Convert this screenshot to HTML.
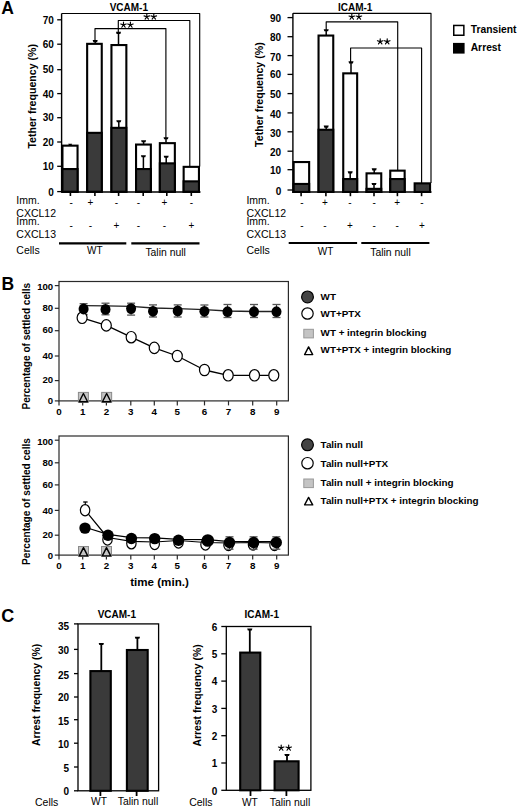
<!DOCTYPE html>
<html><head><meta charset="utf-8"><style>
html,body{margin:0;padding:0;background:#fff;overflow:hidden;width:520px;height:810px;}
svg{display:block;}
text{font-family:"Liberation Sans",sans-serif;fill:#000;}
</style></head><body>
<svg width="520" height="810" viewBox="0 0 520 810">
<text x="1.20" y="13.80" font-size="17.5" font-weight="bold" text-anchor="start" >A</text>
<text x="128.80" y="11.00" font-size="10" font-weight="bold" text-anchor="middle" >VCAM-1</text>
<line x1="61.60" y1="13.50" x2="61.60" y2="192.50" stroke="#000" stroke-width="1.4"/>
<line x1="57.20" y1="191.60" x2="61.60" y2="191.60" stroke="#000" stroke-width="1.3"/>
<text x="53.80" y="196.10" font-size="10" font-weight="bold" text-anchor="end" >0</text>
<line x1="57.20" y1="166.30" x2="61.60" y2="166.30" stroke="#000" stroke-width="1.3"/>
<text x="53.80" y="169.90" font-size="10" font-weight="bold" text-anchor="end" >10</text>
<line x1="57.20" y1="142.00" x2="61.60" y2="142.00" stroke="#000" stroke-width="1.3"/>
<text x="53.80" y="146.30" font-size="10" font-weight="bold" text-anchor="end" >20</text>
<line x1="57.20" y1="117.70" x2="61.60" y2="117.70" stroke="#000" stroke-width="1.3"/>
<text x="53.80" y="120.90" font-size="10" font-weight="bold" text-anchor="end" >30</text>
<line x1="57.20" y1="93.60" x2="61.60" y2="93.60" stroke="#000" stroke-width="1.3"/>
<text x="53.80" y="97.50" font-size="10" font-weight="bold" text-anchor="end" >40</text>
<line x1="57.20" y1="69.70" x2="61.60" y2="69.70" stroke="#000" stroke-width="1.3"/>
<text x="53.80" y="73.00" font-size="10" font-weight="bold" text-anchor="end" >50</text>
<line x1="57.20" y1="44.20" x2="61.60" y2="44.20" stroke="#000" stroke-width="1.3"/>
<text x="53.80" y="47.80" font-size="10" font-weight="bold" text-anchor="end" >60</text>
<line x1="57.20" y1="19.80" x2="61.60" y2="19.80" stroke="#000" stroke-width="1.3"/>
<text x="53.80" y="23.60" font-size="10" font-weight="bold" text-anchor="end" >70</text>
<line x1="61.60" y1="192.00" x2="200.50" y2="192.00" stroke="#000" stroke-width="1.6"/>
<text transform="translate(35.7,96.3) rotate(-90)" font-size="10.6" font-weight="bold" text-anchor="middle">Tether frequency (%)</text>
<rect x="62.45" y="145.65" width="15.10" height="46.10" fill="#fff" stroke="#000" stroke-width="2.1"/>
<rect x="62.45" y="169.05" width="15.10" height="22.70" fill="#3a3a3a" stroke="#000" stroke-width="2.1"/>
<line x1="70.40" y1="192.50" x2="70.40" y2="196.00" stroke="#000" stroke-width="1.6"/>
<rect x="87.15" y="43.85" width="14.60" height="147.90" fill="#fff" stroke="#000" stroke-width="2.1"/>
<rect x="87.15" y="132.85" width="14.60" height="58.90" fill="#3a3a3a" stroke="#000" stroke-width="2.1"/>
<line x1="94.90" y1="192.50" x2="94.90" y2="196.00" stroke="#000" stroke-width="1.6"/>
<rect x="111.45" y="45.05" width="14.90" height="146.70" fill="#fff" stroke="#000" stroke-width="2.1"/>
<rect x="111.45" y="127.85" width="14.90" height="63.90" fill="#3a3a3a" stroke="#000" stroke-width="2.1"/>
<line x1="118.60" y1="192.50" x2="118.60" y2="196.00" stroke="#000" stroke-width="1.6"/>
<rect x="136.05" y="144.55" width="14.80" height="47.20" fill="#fff" stroke="#000" stroke-width="2.1"/>
<rect x="136.05" y="169.05" width="14.80" height="22.70" fill="#3a3a3a" stroke="#000" stroke-width="2.1"/>
<line x1="143.20" y1="192.50" x2="143.20" y2="196.00" stroke="#000" stroke-width="1.6"/>
<rect x="159.85" y="143.15" width="15.00" height="48.60" fill="#fff" stroke="#000" stroke-width="2.1"/>
<rect x="159.85" y="163.35" width="15.00" height="28.40" fill="#3a3a3a" stroke="#000" stroke-width="2.1"/>
<line x1="166.80" y1="192.50" x2="166.80" y2="196.00" stroke="#000" stroke-width="1.6"/>
<rect x="183.65" y="166.85" width="15.30" height="24.90" fill="#fff" stroke="#000" stroke-width="2.1"/>
<rect x="183.65" y="181.35" width="15.30" height="10.40" fill="#3a3a3a" stroke="#000" stroke-width="2.1"/>
<line x1="191.30" y1="192.50" x2="191.30" y2="196.00" stroke="#000" stroke-width="1.6"/>
<path d="M68.20,143.70H72.20L71.60,145.10H68.80Z" fill="#000"/>
<line x1="95.20" y1="41.10" x2="95.20" y2="43.50" stroke="#000" stroke-width="1.5"/>
<path d="M92.70,40.05H97.70L97.10,42.15H93.30Z" fill="#000"/>
<line x1="118.50" y1="32.90" x2="118.50" y2="44.50" stroke="#000" stroke-width="1.5"/>
<path d="M116.00,31.85H121.00L120.40,33.95H116.60Z" fill="#000"/>
<line x1="118.80" y1="121.30" x2="118.80" y2="127.50" stroke="#000" stroke-width="1.5"/>
<path d="M116.30,120.25H121.30L120.70,122.35H116.90Z" fill="#000"/>
<line x1="143.60" y1="141.20" x2="143.60" y2="144.00" stroke="#000" stroke-width="1.5"/>
<path d="M141.10,140.15H146.10L145.50,142.25H141.70Z" fill="#000"/>
<line x1="143.40" y1="156.30" x2="143.40" y2="168.50" stroke="#000" stroke-width="1.5"/>
<path d="M140.90,155.25H145.90L145.30,157.35H141.50Z" fill="#000"/>
<line x1="166.00" y1="138.30" x2="166.00" y2="142.50" stroke="#000" stroke-width="1.5"/>
<path d="M163.50,137.25H168.50L167.90,139.35H164.10Z" fill="#000"/>
<line x1="166.20" y1="156.70" x2="166.20" y2="163.00" stroke="#000" stroke-width="1.5"/>
<path d="M163.70,155.65H168.70L168.10,157.75H164.30Z" fill="#000"/>
<polyline points="61.60,13.50 199.70,13.50 199.70,166.50" fill="none" stroke="#000" stroke-width="1.15" stroke-linejoin="round"/>
<polyline points="118.30,33.00 118.30,20.50 189.80,20.50 189.80,166.50" fill="none" stroke="#000" stroke-width="1.15" stroke-linejoin="round"/>
<polyline points="95.00,41.00 95.00,28.60 165.90,28.60 165.90,138.00" fill="none" stroke="#000" stroke-width="1.15" stroke-linejoin="round"/>
<path d="M123.50,24.90L123.50,22.00M123.50,24.90L126.26,24.00M123.50,24.90L125.20,27.25M123.50,24.90L121.80,27.25M123.50,24.90L120.74,24.00" stroke="#000" stroke-width="1.15" fill="none" stroke-linecap="round"/>
<path d="M130.40,24.90L130.40,22.00M130.40,24.90L133.16,24.00M130.40,24.90L132.10,27.25M130.40,24.90L128.70,27.25M130.40,24.90L127.64,24.00" stroke="#000" stroke-width="1.15" fill="none" stroke-linecap="round"/>
<path d="M146.80,16.80L146.80,13.90M146.80,16.80L149.56,15.90M146.80,16.80L148.50,19.15M146.80,16.80L145.10,19.15M146.80,16.80L144.04,15.90" stroke="#000" stroke-width="1.15" fill="none" stroke-linecap="round"/>
<path d="M153.80,16.80L153.80,13.90M153.80,16.80L156.56,15.90M153.80,16.80L155.50,19.15M153.80,16.80L152.10,19.15M153.80,16.80L151.04,15.90" stroke="#000" stroke-width="1.15" fill="none" stroke-linecap="round"/>
<text x="16.30" y="203.75" font-size="10.5" text-anchor="start" >Imm.</text>
<text x="16.30" y="216.75" font-size="10.5" text-anchor="start" >CXCL12</text>
<text x="16.30" y="225.00" font-size="10.5" text-anchor="start" >Imm.</text>
<text x="16.30" y="238.00" font-size="10.5" text-anchor="start" >CXCL13</text>
<text x="16.30" y="253.80" font-size="10.5" text-anchor="start" >Cells</text>
<text x="71.10" y="205.50" font-size="10" text-anchor="middle" >-</text>
<text x="71.10" y="229.00" font-size="10" text-anchor="middle" >-</text>
<text x="90.40" y="205.50" font-size="10" text-anchor="middle" >+</text>
<text x="90.40" y="229.00" font-size="10" text-anchor="middle" >-</text>
<text x="116.40" y="205.50" font-size="10" text-anchor="middle" >-</text>
<text x="116.40" y="229.00" font-size="10" text-anchor="middle" >+</text>
<text x="138.50" y="205.50" font-size="10" text-anchor="middle" >-</text>
<text x="138.50" y="229.00" font-size="10" text-anchor="middle" >-</text>
<text x="164.50" y="205.50" font-size="10" text-anchor="middle" >+</text>
<text x="164.50" y="229.00" font-size="10" text-anchor="middle" >-</text>
<text x="191.50" y="205.50" font-size="10" text-anchor="middle" >-</text>
<text x="191.50" y="229.00" font-size="10" text-anchor="middle" >+</text>
<line x1="59.00" y1="243.30" x2="126.30" y2="243.30" stroke="#000" stroke-width="2.2"/>
<line x1="131.30" y1="243.30" x2="199.50" y2="243.30" stroke="#000" stroke-width="2.2"/>
<text x="94.80" y="254.00" font-size="10" text-anchor="middle" >WT</text>
<text x="165.60" y="255.50" font-size="10.4" text-anchor="middle" >Talin null</text>
<text x="355.20" y="11.40" font-size="10" font-weight="bold" text-anchor="middle" >ICAM-1</text>
<line x1="292.90" y1="13.30" x2="292.90" y2="193.00" stroke="#000" stroke-width="1.4"/>
<line x1="287.50" y1="190.00" x2="292.90" y2="190.00" stroke="#000" stroke-width="1.3"/>
<text x="281.20" y="195.40" font-size="10" font-weight="bold" text-anchor="end" >0</text>
<line x1="287.50" y1="169.70" x2="292.90" y2="169.70" stroke="#000" stroke-width="1.3"/>
<text x="281.20" y="174.40" font-size="10" font-weight="bold" text-anchor="end" >10</text>
<line x1="287.50" y1="151.20" x2="292.90" y2="151.20" stroke="#000" stroke-width="1.3"/>
<text x="281.20" y="156.00" font-size="10" font-weight="bold" text-anchor="end" >20</text>
<line x1="287.50" y1="131.80" x2="292.90" y2="131.80" stroke="#000" stroke-width="1.3"/>
<text x="281.20" y="136.80" font-size="10" font-weight="bold" text-anchor="end" >30</text>
<line x1="287.50" y1="112.90" x2="292.90" y2="112.90" stroke="#000" stroke-width="1.3"/>
<text x="281.20" y="117.90" font-size="10" font-weight="bold" text-anchor="end" >40</text>
<line x1="287.50" y1="93.60" x2="292.90" y2="93.60" stroke="#000" stroke-width="1.3"/>
<text x="281.20" y="98.20" font-size="10" font-weight="bold" text-anchor="end" >50</text>
<line x1="287.50" y1="74.40" x2="292.90" y2="74.40" stroke="#000" stroke-width="1.3"/>
<text x="281.20" y="78.30" font-size="10" font-weight="bold" text-anchor="end" >60</text>
<line x1="287.50" y1="55.60" x2="292.90" y2="55.60" stroke="#000" stroke-width="1.3"/>
<text x="281.20" y="60.90" font-size="10" font-weight="bold" text-anchor="end" >70</text>
<line x1="287.50" y1="36.70" x2="292.90" y2="36.70" stroke="#000" stroke-width="1.3"/>
<text x="281.20" y="40.90" font-size="10" font-weight="bold" text-anchor="end" >80</text>
<line x1="287.50" y1="17.60" x2="292.90" y2="17.60" stroke="#000" stroke-width="1.3"/>
<text x="281.20" y="22.10" font-size="10" font-weight="bold" text-anchor="end" >90</text>
<line x1="292.90" y1="192.00" x2="431.50" y2="192.00" stroke="#000" stroke-width="1.6"/>
<text transform="translate(262.6,94.6) rotate(-90)" font-size="10.6" font-weight="bold" text-anchor="middle">Tether frequency (%)</text>
<rect x="293.65" y="162.05" width="15.50" height="29.90" fill="#fff" stroke="#000" stroke-width="2.1"/>
<rect x="293.65" y="183.95" width="15.50" height="8.00" fill="#3a3a3a" stroke="#000" stroke-width="2.1"/>
<line x1="301.10" y1="192.50" x2="301.10" y2="196.20" stroke="#000" stroke-width="1.6"/>
<rect x="318.55" y="35.55" width="14.70" height="156.40" fill="#fff" stroke="#000" stroke-width="2.1"/>
<rect x="318.55" y="129.75" width="14.70" height="62.20" fill="#3a3a3a" stroke="#000" stroke-width="2.1"/>
<line x1="325.90" y1="192.50" x2="325.90" y2="196.20" stroke="#000" stroke-width="1.6"/>
<rect x="343.25" y="73.35" width="13.90" height="118.60" fill="#fff" stroke="#000" stroke-width="2.1"/>
<rect x="343.25" y="179.05" width="13.90" height="12.90" fill="#3a3a3a" stroke="#000" stroke-width="2.1"/>
<line x1="350.40" y1="192.50" x2="350.40" y2="196.20" stroke="#000" stroke-width="1.6"/>
<rect x="366.55" y="173.35" width="14.70" height="18.60" fill="#fff" stroke="#000" stroke-width="2.1"/>
<rect x="366.55" y="188.85" width="14.70" height="3.10" fill="#3a3a3a" stroke="#000" stroke-width="2.1"/>
<line x1="374.00" y1="192.50" x2="374.00" y2="196.20" stroke="#000" stroke-width="1.6"/>
<rect x="390.25" y="170.65" width="14.40" height="21.30" fill="#fff" stroke="#000" stroke-width="2.1"/>
<rect x="390.25" y="179.05" width="14.40" height="12.90" fill="#3a3a3a" stroke="#000" stroke-width="2.1"/>
<line x1="397.40" y1="192.50" x2="397.40" y2="196.20" stroke="#000" stroke-width="1.6"/>
<rect x="414.65" y="183.35" width="15.40" height="8.60" fill="#3a3a3a" stroke="#000" stroke-width="2.1"/>
<line x1="421.60" y1="192.50" x2="421.60" y2="196.20" stroke="#000" stroke-width="1.6"/>
<line x1="326.20" y1="30.30" x2="326.20" y2="35.00" stroke="#000" stroke-width="1.5"/>
<path d="M323.70,29.25H328.70L328.10,31.35H324.30Z" fill="#000"/>
<line x1="326.20" y1="126.60" x2="326.20" y2="130.00" stroke="#000" stroke-width="1.5"/>
<path d="M323.70,125.55H328.70L328.10,127.65H324.30Z" fill="#000"/>
<line x1="351.00" y1="62.40" x2="351.00" y2="73.00" stroke="#000" stroke-width="1.5"/>
<path d="M348.50,61.35H353.50L352.90,63.45H349.10Z" fill="#000"/>
<line x1="350.20" y1="172.40" x2="350.20" y2="178.50" stroke="#000" stroke-width="1.5"/>
<path d="M347.70,171.35H352.70L352.10,173.45H348.30Z" fill="#000"/>
<line x1="374.20" y1="169.40" x2="374.20" y2="173.00" stroke="#000" stroke-width="1.5"/>
<path d="M371.70,168.35H376.70L376.10,170.45H372.30Z" fill="#000"/>
<line x1="374.00" y1="184.00" x2="374.00" y2="188.50" stroke="#000" stroke-width="1.5"/>
<path d="M371.50,182.95H376.50L375.90,185.05H372.10Z" fill="#000"/>
<polyline points="292.90,13.30 431.00,13.30 431.00,183.00" fill="none" stroke="#000" stroke-width="1.15" stroke-linejoin="round"/>
<polyline points="326.20,30.00 326.20,21.80 397.70,21.80 397.70,170.00" fill="none" stroke="#000" stroke-width="1.15" stroke-linejoin="round"/>
<polyline points="350.60,62.00 350.60,48.00 421.60,48.00 421.60,183.00" fill="none" stroke="#000" stroke-width="1.15" stroke-linejoin="round"/>
<path d="M351.80,16.90L351.80,14.00M351.80,16.90L354.56,16.00M351.80,16.90L353.50,19.25M351.80,16.90L350.10,19.25M351.80,16.90L349.04,16.00" stroke="#000" stroke-width="1.15" fill="none" stroke-linecap="round"/>
<path d="M358.90,16.90L358.90,14.00M358.90,16.90L361.66,16.00M358.90,16.90L360.60,19.25M358.90,16.90L357.20,19.25M358.90,16.90L356.14,16.00" stroke="#000" stroke-width="1.15" fill="none" stroke-linecap="round"/>
<path d="M380.20,41.60L380.20,38.70M380.20,41.60L382.96,40.70M380.20,41.60L381.90,43.95M380.20,41.60L378.50,43.95M380.20,41.60L377.44,40.70" stroke="#000" stroke-width="1.15" fill="none" stroke-linecap="round"/>
<path d="M387.20,41.60L387.20,38.70M387.20,41.60L389.96,40.70M387.20,41.60L388.90,43.95M387.20,41.60L385.50,43.95M387.20,41.60L384.44,40.70" stroke="#000" stroke-width="1.15" fill="none" stroke-linecap="round"/>
<rect x="453.75" y="25.45" width="10.10" height="9.80" fill="#fff" stroke="#000" stroke-width="1.5"/>
<rect x="453.00" y="42.90" width="11.60" height="10.70" fill="#000" stroke="#000" stroke-width="0"/>
<text x="470.70" y="33.40" font-size="10.3" font-weight="bold" text-anchor="start" >Transient</text>
<text x="470.70" y="51.20" font-size="10.3" font-weight="bold" text-anchor="start" >Arrest</text>
<text x="246.40" y="204.40" font-size="10.5" text-anchor="start" >Imm.</text>
<text x="246.40" y="216.50" font-size="10.5" text-anchor="start" >CXCL12</text>
<text x="246.40" y="224.60" font-size="10.5" text-anchor="start" >Imm.</text>
<text x="246.40" y="237.70" font-size="10.5" text-anchor="start" >CXCL13</text>
<text x="246.40" y="253.80" font-size="10.5" text-anchor="start" >Cells</text>
<text x="301.90" y="206.00" font-size="10" text-anchor="middle" >-</text>
<text x="301.90" y="228.80" font-size="10" text-anchor="middle" >-</text>
<text x="324.90" y="206.00" font-size="10" text-anchor="middle" >+</text>
<text x="324.90" y="228.80" font-size="10" text-anchor="middle" >-</text>
<text x="349.80" y="206.00" font-size="10" text-anchor="middle" >-</text>
<text x="349.80" y="228.80" font-size="10" text-anchor="middle" >+</text>
<text x="374.20" y="206.00" font-size="10" text-anchor="middle" >-</text>
<text x="374.20" y="228.80" font-size="10" text-anchor="middle" >-</text>
<text x="397.20" y="206.00" font-size="10" text-anchor="middle" >+</text>
<text x="397.20" y="228.80" font-size="10" text-anchor="middle" >-</text>
<text x="422.00" y="206.00" font-size="10" text-anchor="middle" >-</text>
<text x="422.00" y="228.80" font-size="10" text-anchor="middle" >+</text>
<line x1="288.70" y1="243.00" x2="357.10" y2="243.00" stroke="#000" stroke-width="2.2"/>
<line x1="361.30" y1="243.00" x2="429.40" y2="243.00" stroke="#000" stroke-width="2.2"/>
<text x="325.50" y="254.50" font-size="10" text-anchor="middle" >WT</text>
<text x="390.50" y="255.60" font-size="10.4" text-anchor="middle" >Talin null</text>
<text x="1.60" y="289.90" font-size="17.5" font-weight="bold" text-anchor="start" >B</text>
<rect x="59" y="281.5" width="229.4" height="119.40" fill="none" stroke="#2a2a2a" stroke-width="1.2"/>
<line x1="54.80" y1="400.90" x2="59.00" y2="400.90" stroke="#2a2a2a" stroke-width="1.2"/>
<text x="53.20" y="404.30" font-size="9.6" font-weight="bold" text-anchor="end" >0</text>
<line x1="54.80" y1="380.60" x2="59.00" y2="380.60" stroke="#2a2a2a" stroke-width="1.2"/>
<text x="53.20" y="383.20" font-size="9.6" font-weight="bold" text-anchor="end" >20</text>
<line x1="54.80" y1="356.00" x2="59.00" y2="356.00" stroke="#2a2a2a" stroke-width="1.2"/>
<text x="53.20" y="359.40" font-size="9.6" font-weight="bold" text-anchor="end" >40</text>
<line x1="54.80" y1="330.70" x2="59.00" y2="330.70" stroke="#2a2a2a" stroke-width="1.2"/>
<text x="53.20" y="333.20" font-size="9.6" font-weight="bold" text-anchor="end" >60</text>
<line x1="54.80" y1="308.30" x2="59.00" y2="308.30" stroke="#2a2a2a" stroke-width="1.2"/>
<text x="53.20" y="310.70" font-size="9.6" font-weight="bold" text-anchor="end" >80</text>
<line x1="54.80" y1="285.60" x2="59.00" y2="285.60" stroke="#2a2a2a" stroke-width="1.2"/>
<text x="53.20" y="289.80" font-size="9.6" font-weight="bold" text-anchor="end" >100</text>
<line x1="59.00" y1="400.90" x2="59.00" y2="405.40" stroke="#2a2a2a" stroke-width="1.2"/>
<text x="59.00" y="415.10" font-size="9.8" font-weight="bold" text-anchor="middle" >0</text>
<line x1="82.70" y1="400.90" x2="82.70" y2="405.40" stroke="#2a2a2a" stroke-width="1.2"/>
<text x="82.70" y="415.10" font-size="9.8" font-weight="bold" text-anchor="middle" >1</text>
<line x1="106.40" y1="400.90" x2="106.40" y2="405.40" stroke="#2a2a2a" stroke-width="1.2"/>
<text x="106.40" y="415.10" font-size="9.8" font-weight="bold" text-anchor="middle" >2</text>
<line x1="130.80" y1="400.90" x2="130.80" y2="405.40" stroke="#2a2a2a" stroke-width="1.2"/>
<text x="130.80" y="415.10" font-size="9.8" font-weight="bold" text-anchor="middle" >3</text>
<line x1="154.30" y1="400.90" x2="154.30" y2="405.40" stroke="#2a2a2a" stroke-width="1.2"/>
<text x="154.30" y="415.10" font-size="9.8" font-weight="bold" text-anchor="middle" >4</text>
<line x1="177.30" y1="400.90" x2="177.30" y2="405.40" stroke="#2a2a2a" stroke-width="1.2"/>
<text x="177.30" y="415.10" font-size="9.8" font-weight="bold" text-anchor="middle" >5</text>
<line x1="204.50" y1="400.90" x2="204.50" y2="405.40" stroke="#2a2a2a" stroke-width="1.2"/>
<text x="204.50" y="415.10" font-size="9.8" font-weight="bold" text-anchor="middle" >6</text>
<line x1="228.50" y1="400.90" x2="228.50" y2="405.40" stroke="#2a2a2a" stroke-width="1.2"/>
<text x="228.50" y="415.10" font-size="9.8" font-weight="bold" text-anchor="middle" >7</text>
<line x1="252.70" y1="400.90" x2="252.70" y2="405.40" stroke="#2a2a2a" stroke-width="1.2"/>
<text x="252.70" y="415.10" font-size="9.8" font-weight="bold" text-anchor="middle" >8</text>
<line x1="276.70" y1="400.90" x2="276.70" y2="405.40" stroke="#2a2a2a" stroke-width="1.2"/>
<text x="276.70" y="415.10" font-size="9.8" font-weight="bold" text-anchor="middle" >9</text>
<polyline points="82.10,317.80 106.30,325.40 131.20,337.20 154.30,347.90 177.30,356.00 204.50,370.00 228.20,375.30 254.50,375.30 273.80,375.30" fill="none" stroke="#000" stroke-width="1.3" stroke-linejoin="round"/>
<polyline points="83.60,305.60 105.50,305.80 131.10,306.30 153.00,308.00 177.70,308.70 204.40,309.60 227.50,311.00 254.00,311.50 276.50,311.50" fill="none" stroke="#222" stroke-width="1.3" stroke-linejoin="round"/>
<line x1="83.60" y1="303.70" x2="83.60" y2="314.50" stroke="#333" stroke-width="1.1"/>
<line x1="79.60" y1="303.70" x2="87.60" y2="303.70" stroke="#555" stroke-width="1.3"/>
<line x1="79.60" y1="314.50" x2="87.60" y2="314.50" stroke="#555" stroke-width="1.3"/>
<line x1="105.50" y1="303.20" x2="105.50" y2="314.80" stroke="#333" stroke-width="1.1"/>
<line x1="101.50" y1="303.20" x2="109.50" y2="303.20" stroke="#555" stroke-width="1.3"/>
<line x1="101.50" y1="314.80" x2="109.50" y2="314.80" stroke="#555" stroke-width="1.3"/>
<line x1="131.10" y1="303.20" x2="131.10" y2="315.10" stroke="#333" stroke-width="1.1"/>
<line x1="127.10" y1="303.20" x2="135.10" y2="303.20" stroke="#555" stroke-width="1.3"/>
<line x1="127.10" y1="315.10" x2="135.10" y2="315.10" stroke="#555" stroke-width="1.3"/>
<line x1="153.00" y1="304.90" x2="153.00" y2="317.00" stroke="#333" stroke-width="1.1"/>
<line x1="149.00" y1="304.90" x2="157.00" y2="304.90" stroke="#555" stroke-width="1.3"/>
<line x1="149.00" y1="317.00" x2="157.00" y2="317.00" stroke="#555" stroke-width="1.3"/>
<line x1="177.70" y1="304.90" x2="177.70" y2="317.00" stroke="#333" stroke-width="1.1"/>
<line x1="173.70" y1="304.90" x2="181.70" y2="304.90" stroke="#555" stroke-width="1.3"/>
<line x1="173.70" y1="317.00" x2="181.70" y2="317.00" stroke="#555" stroke-width="1.3"/>
<line x1="204.40" y1="305.00" x2="204.40" y2="317.00" stroke="#333" stroke-width="1.1"/>
<line x1="200.40" y1="305.00" x2="208.40" y2="305.00" stroke="#555" stroke-width="1.3"/>
<line x1="200.40" y1="317.00" x2="208.40" y2="317.00" stroke="#555" stroke-width="1.3"/>
<line x1="227.50" y1="304.50" x2="227.50" y2="317.50" stroke="#333" stroke-width="1.1"/>
<line x1="223.50" y1="304.50" x2="231.50" y2="304.50" stroke="#555" stroke-width="1.3"/>
<line x1="223.50" y1="317.50" x2="231.50" y2="317.50" stroke="#555" stroke-width="1.3"/>
<line x1="254.00" y1="304.50" x2="254.00" y2="317.50" stroke="#333" stroke-width="1.1"/>
<line x1="250.00" y1="304.50" x2="258.00" y2="304.50" stroke="#555" stroke-width="1.3"/>
<line x1="250.00" y1="317.50" x2="258.00" y2="317.50" stroke="#555" stroke-width="1.3"/>
<line x1="276.50" y1="304.50" x2="276.50" y2="317.50" stroke="#333" stroke-width="1.1"/>
<line x1="272.50" y1="304.50" x2="280.50" y2="304.50" stroke="#555" stroke-width="1.3"/>
<line x1="272.50" y1="317.50" x2="280.50" y2="317.50" stroke="#555" stroke-width="1.3"/>
<ellipse cx="82.10" cy="317.80" rx="5.0" ry="5.7" fill="#fff" stroke="#000" stroke-width="1.2"/>
<ellipse cx="106.30" cy="325.40" rx="5.0" ry="5.7" fill="#fff" stroke="#000" stroke-width="1.2"/>
<ellipse cx="131.20" cy="337.20" rx="5.0" ry="5.7" fill="#fff" stroke="#000" stroke-width="1.2"/>
<ellipse cx="154.30" cy="347.90" rx="5.0" ry="5.7" fill="#fff" stroke="#000" stroke-width="1.2"/>
<ellipse cx="177.30" cy="356.00" rx="5.0" ry="5.7" fill="#fff" stroke="#000" stroke-width="1.2"/>
<ellipse cx="204.50" cy="370.00" rx="5.0" ry="5.7" fill="#fff" stroke="#000" stroke-width="1.2"/>
<ellipse cx="228.20" cy="375.30" rx="5.0" ry="5.7" fill="#fff" stroke="#000" stroke-width="1.2"/>
<ellipse cx="254.50" cy="375.30" rx="5.0" ry="5.7" fill="#fff" stroke="#000" stroke-width="1.2"/>
<ellipse cx="273.80" cy="375.30" rx="5.0" ry="5.7" fill="#fff" stroke="#000" stroke-width="1.2"/>
<ellipse cx="83.60" cy="309.00" rx="5.0" ry="5.4" fill="#000" stroke="#000" stroke-width="0"/>
<ellipse cx="105.50" cy="309.40" rx="5.0" ry="5.4" fill="#000" stroke="#000" stroke-width="0"/>
<ellipse cx="131.10" cy="308.60" rx="5.0" ry="5.4" fill="#000" stroke="#000" stroke-width="0"/>
<ellipse cx="153.00" cy="311.30" rx="5.0" ry="5.4" fill="#000" stroke="#000" stroke-width="0"/>
<ellipse cx="177.70" cy="310.90" rx="5.0" ry="5.4" fill="#000" stroke="#000" stroke-width="0"/>
<ellipse cx="204.40" cy="311.30" rx="5.0" ry="5.4" fill="#000" stroke="#000" stroke-width="0"/>
<ellipse cx="227.50" cy="311.70" rx="5.0" ry="5.4" fill="#000" stroke="#000" stroke-width="0"/>
<ellipse cx="254.00" cy="311.70" rx="5.0" ry="5.4" fill="#000" stroke="#000" stroke-width="0"/>
<ellipse cx="276.50" cy="311.70" rx="5.0" ry="5.4" fill="#000" stroke="#000" stroke-width="0"/>
<rect x="78.40" y="392.40" width="10" height="10" fill="#c4c4c4" stroke="#8a8a8a" stroke-width="1"/>
<polygon points="83.40,393.50 79.20,401.80 87.60,401.80" fill="none" stroke="#000" stroke-width="1.4" stroke-linejoin="round"/>
<rect x="101.65" y="392.40" width="10" height="10" fill="#c4c4c4" stroke="#8a8a8a" stroke-width="1"/>
<polygon points="106.65,393.50 102.45,401.80 110.85,401.80" fill="none" stroke="#000" stroke-width="1.4" stroke-linejoin="round"/>
<circle cx="307.5" cy="296.9" r="5.9" fill="#444" stroke="#000" stroke-width="1.2"/>
<circle cx="307.5" cy="313.5" r="5.7" fill="#fff" stroke="#000" stroke-width="1.2"/>
<rect x="303.8" y="329.3" width="9.6" height="8.6" fill="#c4c4c4" stroke="#999" stroke-width="1"/>
<polygon points="308.6,346.9 304.6,354.6 312.7,354.6" fill="none" stroke="#000" stroke-width="1.4" stroke-linejoin="round"/>
<text x="320.60" y="300.40" font-size="9.85" font-weight="bold" text-anchor="start" >WT</text>
<text x="320.60" y="317.30" font-size="9.85" font-weight="bold" text-anchor="start" >WT+PTX</text>
<text x="320.60" y="336.30" font-size="9.85" font-weight="bold" text-anchor="start" >WT + integrin blocking</text>
<text x="320.60" y="352.90" font-size="9.85" font-weight="bold" text-anchor="start" >WT+PTX + integrin blocking</text>
<text transform="translate(29.6,346.2) rotate(-90)" font-size="10.05" font-weight="bold" text-anchor="middle">Percentage of settled cells</text>
<rect x="59" y="436" width="229.4" height="119.10" fill="none" stroke="#2a2a2a" stroke-width="1.2"/>
<line x1="54.80" y1="555.10" x2="59.00" y2="555.10" stroke="#2a2a2a" stroke-width="1.2"/>
<text x="53.20" y="559.30" font-size="9.6" font-weight="bold" text-anchor="end" >0</text>
<line x1="54.80" y1="535.20" x2="59.00" y2="535.20" stroke="#2a2a2a" stroke-width="1.2"/>
<text x="53.20" y="538.20" font-size="9.6" font-weight="bold" text-anchor="end" >20</text>
<line x1="54.80" y1="510.40" x2="59.00" y2="510.40" stroke="#2a2a2a" stroke-width="1.2"/>
<text x="53.20" y="514.40" font-size="9.6" font-weight="bold" text-anchor="end" >40</text>
<line x1="54.80" y1="484.90" x2="59.00" y2="484.90" stroke="#2a2a2a" stroke-width="1.2"/>
<text x="53.20" y="488.20" font-size="9.6" font-weight="bold" text-anchor="end" >60</text>
<line x1="54.80" y1="462.80" x2="59.00" y2="462.80" stroke="#2a2a2a" stroke-width="1.2"/>
<text x="53.20" y="466.10" font-size="9.6" font-weight="bold" text-anchor="end" >80</text>
<line x1="54.80" y1="440.20" x2="59.00" y2="440.20" stroke="#2a2a2a" stroke-width="1.2"/>
<text x="53.20" y="444.70" font-size="9.6" font-weight="bold" text-anchor="end" >100</text>
<line x1="59.00" y1="555.10" x2="59.00" y2="559.60" stroke="#2a2a2a" stroke-width="1.2"/>
<text x="59.00" y="569.30" font-size="9.8" font-weight="bold" text-anchor="middle" >0</text>
<line x1="82.70" y1="555.10" x2="82.70" y2="559.60" stroke="#2a2a2a" stroke-width="1.2"/>
<text x="82.70" y="569.30" font-size="9.8" font-weight="bold" text-anchor="middle" >1</text>
<line x1="106.40" y1="555.10" x2="106.40" y2="559.60" stroke="#2a2a2a" stroke-width="1.2"/>
<text x="106.40" y="569.30" font-size="9.8" font-weight="bold" text-anchor="middle" >2</text>
<line x1="130.80" y1="555.10" x2="130.80" y2="559.60" stroke="#2a2a2a" stroke-width="1.2"/>
<text x="130.80" y="569.30" font-size="9.8" font-weight="bold" text-anchor="middle" >3</text>
<line x1="154.30" y1="555.10" x2="154.30" y2="559.60" stroke="#2a2a2a" stroke-width="1.2"/>
<text x="154.30" y="569.30" font-size="9.8" font-weight="bold" text-anchor="middle" >4</text>
<line x1="177.30" y1="555.10" x2="177.30" y2="559.60" stroke="#2a2a2a" stroke-width="1.2"/>
<text x="177.30" y="569.30" font-size="9.8" font-weight="bold" text-anchor="middle" >5</text>
<line x1="204.50" y1="555.10" x2="204.50" y2="559.60" stroke="#2a2a2a" stroke-width="1.2"/>
<text x="204.50" y="569.30" font-size="9.8" font-weight="bold" text-anchor="middle" >6</text>
<line x1="228.50" y1="555.10" x2="228.50" y2="559.60" stroke="#2a2a2a" stroke-width="1.2"/>
<text x="228.50" y="569.30" font-size="9.8" font-weight="bold" text-anchor="middle" >7</text>
<line x1="252.70" y1="555.10" x2="252.70" y2="559.60" stroke="#2a2a2a" stroke-width="1.2"/>
<text x="252.70" y="569.30" font-size="9.8" font-weight="bold" text-anchor="middle" >8</text>
<line x1="276.70" y1="555.10" x2="276.70" y2="559.60" stroke="#2a2a2a" stroke-width="1.2"/>
<text x="276.70" y="569.30" font-size="9.8" font-weight="bold" text-anchor="middle" >9</text>
<polyline points="85.10,510.20 107.50,537.50 131.40,541.30 154.70,542.00 178.50,540.50 205.50,542.50 228.50,543.00 253.00,542.50 274.50,543.00" fill="none" stroke="#000" stroke-width="1.2" stroke-linejoin="round"/>
<polyline points="85.00,527.30 108.00,534.40 131.40,537.70 154.70,537.80 178.50,539.40 207.80,539.70 229.50,541.70 253.60,541.70 276.30,541.70" fill="none" stroke="#000" stroke-width="1.2" stroke-linejoin="round"/>
<ellipse cx="85.10" cy="510.20" rx="4.7" ry="5.6" fill="#fff" stroke="#000" stroke-width="1.2"/>
<ellipse cx="107.50" cy="539.50" rx="4.7" ry="5.6" fill="#fff" stroke="#000" stroke-width="1.2"/>
<ellipse cx="131.40" cy="543.30" rx="4.7" ry="5.6" fill="#fff" stroke="#000" stroke-width="1.2"/>
<ellipse cx="154.70" cy="544.00" rx="4.7" ry="5.6" fill="#fff" stroke="#000" stroke-width="1.2"/>
<ellipse cx="178.50" cy="542.50" rx="4.7" ry="5.6" fill="#fff" stroke="#000" stroke-width="1.2"/>
<ellipse cx="205.50" cy="544.50" rx="4.7" ry="5.6" fill="#fff" stroke="#000" stroke-width="1.2"/>
<ellipse cx="228.50" cy="545.00" rx="4.7" ry="5.6" fill="#fff" stroke="#000" stroke-width="1.2"/>
<ellipse cx="253.00" cy="544.50" rx="4.7" ry="5.6" fill="#fff" stroke="#000" stroke-width="1.2"/>
<ellipse cx="274.50" cy="545.00" rx="4.7" ry="5.6" fill="#fff" stroke="#000" stroke-width="1.2"/>
<line x1="85.30" y1="502.00" x2="85.30" y2="505.00" stroke="#000" stroke-width="1.1"/>
<line x1="83.20" y1="502.00" x2="87.60" y2="502.00" stroke="#000" stroke-width="1.3"/>
<line x1="229.50" y1="536.80" x2="229.50" y2="549.20" stroke="#333" stroke-width="1.1"/>
<line x1="225.50" y1="536.80" x2="233.50" y2="536.80" stroke="#555" stroke-width="1.3"/>
<line x1="225.50" y1="549.20" x2="233.50" y2="549.20" stroke="#555" stroke-width="1.3"/>
<line x1="253.60" y1="536.80" x2="253.60" y2="549.20" stroke="#333" stroke-width="1.1"/>
<line x1="249.60" y1="536.80" x2="257.60" y2="536.80" stroke="#555" stroke-width="1.3"/>
<line x1="249.60" y1="549.20" x2="257.60" y2="549.20" stroke="#555" stroke-width="1.3"/>
<line x1="276.30" y1="536.80" x2="276.30" y2="549.20" stroke="#333" stroke-width="1.1"/>
<line x1="272.30" y1="536.80" x2="280.30" y2="536.80" stroke="#555" stroke-width="1.3"/>
<line x1="272.30" y1="549.20" x2="280.30" y2="549.20" stroke="#555" stroke-width="1.3"/>
<ellipse cx="85.00" cy="528.10" rx="5.7" ry="5.7" fill="#000" stroke="#000" stroke-width="0"/>
<ellipse cx="108.00" cy="535.20" rx="5.7" ry="5.7" fill="#000" stroke="#000" stroke-width="0"/>
<ellipse cx="131.40" cy="538.50" rx="5.7" ry="5.7" fill="#000" stroke="#000" stroke-width="0"/>
<ellipse cx="154.70" cy="538.60" rx="5.7" ry="5.7" fill="#000" stroke="#000" stroke-width="0"/>
<ellipse cx="178.50" cy="540.20" rx="5.7" ry="5.7" fill="#000" stroke="#000" stroke-width="0"/>
<ellipse cx="207.80" cy="540.50" rx="6.3" ry="6.3" fill="#000" stroke="#000" stroke-width="0"/>
<ellipse cx="229.50" cy="542.50" rx="5.7" ry="5.7" fill="#000" stroke="#000" stroke-width="0"/>
<ellipse cx="253.60" cy="542.50" rx="5.7" ry="5.7" fill="#000" stroke="#000" stroke-width="0"/>
<ellipse cx="276.30" cy="542.50" rx="5.7" ry="5.7" fill="#000" stroke="#000" stroke-width="0"/>
<rect x="78.50" y="546.50" width="10" height="10" fill="#c4c4c4" stroke="#8a8a8a" stroke-width="1"/>
<polygon points="83.50,547.60 79.30,555.90 87.70,555.90" fill="none" stroke="#000" stroke-width="1.4" stroke-linejoin="round"/>
<rect x="101.50" y="546.50" width="10" height="10" fill="#c4c4c4" stroke="#8a8a8a" stroke-width="1"/>
<polygon points="106.50,547.60 102.30,555.90 110.70,555.90" fill="none" stroke="#000" stroke-width="1.4" stroke-linejoin="round"/>
<circle cx="307.5" cy="444.8" r="5.9" fill="#444" stroke="#000" stroke-width="1.2"/>
<circle cx="307.5" cy="463.2" r="5.7" fill="#fff" stroke="#000" stroke-width="1.2"/>
<rect x="303.8" y="479" width="9.6" height="8.6" fill="#c4c4c4" stroke="#999" stroke-width="1"/>
<polygon points="308.6,497.4 304.6,504.9 312.7,504.9" fill="none" stroke="#000" stroke-width="1.4" stroke-linejoin="round"/>
<text x="320.60" y="448.10" font-size="9.85" font-weight="bold" text-anchor="start" >Talin null</text>
<text x="320.60" y="467.00" font-size="9.85" font-weight="bold" text-anchor="start" >Talin null+PTX</text>
<text x="320.60" y="486.30" font-size="9.85" font-weight="bold" text-anchor="start" >Talin null + integrin blocking</text>
<text x="320.60" y="504.40" font-size="9.85" font-weight="bold" text-anchor="start" >Talin null+PTX + integrin blocking</text>
<text transform="translate(29.6,501.5) rotate(-90)" font-size="10.05" font-weight="bold" text-anchor="middle">Percentage of settled cells</text>
<text x="159.50" y="586.30" font-size="11.6" font-weight="bold" text-anchor="middle" >time (min.)</text>
<text x="1.20" y="621.70" font-size="18" font-weight="bold" text-anchor="start" >C</text>
<text x="116.80" y="618.20" font-size="10" font-weight="bold" text-anchor="middle" >VCAM-1</text>
<rect x="78" y="623.9" width="80.6" height="166.90" fill="none" stroke="#000" stroke-width="1.3"/>
<line x1="74.00" y1="790.80" x2="78.00" y2="790.80" stroke="#000" stroke-width="1.3"/>
<text x="69.00" y="794.90" font-size="10" font-weight="bold" text-anchor="end" >0</text>
<line x1="74.00" y1="767.00" x2="78.00" y2="767.00" stroke="#000" stroke-width="1.3"/>
<text x="69.00" y="771.60" font-size="10" font-weight="bold" text-anchor="end" >5</text>
<line x1="74.00" y1="743.20" x2="78.00" y2="743.20" stroke="#000" stroke-width="1.3"/>
<text x="69.00" y="748.40" font-size="10" font-weight="bold" text-anchor="end" >10</text>
<line x1="74.00" y1="719.70" x2="78.00" y2="719.70" stroke="#000" stroke-width="1.3"/>
<text x="69.00" y="724.70" font-size="10" font-weight="bold" text-anchor="end" >15</text>
<line x1="74.00" y1="697.00" x2="78.00" y2="697.00" stroke="#000" stroke-width="1.3"/>
<text x="69.00" y="701.00" font-size="10" font-weight="bold" text-anchor="end" >20</text>
<line x1="74.00" y1="673.60" x2="78.00" y2="673.60" stroke="#000" stroke-width="1.3"/>
<text x="69.00" y="678.50" font-size="10" font-weight="bold" text-anchor="end" >25</text>
<line x1="74.00" y1="649.40" x2="78.00" y2="649.40" stroke="#000" stroke-width="1.3"/>
<text x="69.00" y="654.00" font-size="10" font-weight="bold" text-anchor="end" >30</text>
<line x1="74.00" y1="623.90" x2="78.00" y2="623.90" stroke="#000" stroke-width="1.3"/>
<text x="69.00" y="630.00" font-size="10" font-weight="bold" text-anchor="end" >35</text>
<text transform="translate(40.2,695) rotate(-90)" font-size="10.4" font-weight="bold" text-anchor="middle">Arrest frequency (%)</text>
<line x1="101.30" y1="644.10" x2="101.30" y2="671.10" stroke="#000" stroke-width="1.8"/>
<path d="M98.70,643.10H103.90L103.30,645.10H99.30Z" fill="#000"/>
<rect x="90.40" y="671.10" width="20.40" height="119.70" fill="#3a3a3a" stroke="#000" stroke-width="2.1"/>
<line x1="100.40" y1="790.80" x2="100.40" y2="796.00" stroke="#000" stroke-width="1.8"/>
<line x1="137.40" y1="637.70" x2="137.40" y2="650.00" stroke="#000" stroke-width="1.8"/>
<path d="M134.80,636.70H140.00L139.40,638.70H135.40Z" fill="#000"/>
<rect x="126.90" y="650.00" width="20.80" height="140.80" fill="#3a3a3a" stroke="#000" stroke-width="2.1"/>
<line x1="136.60" y1="790.80" x2="136.60" y2="796.00" stroke="#000" stroke-width="1.8"/>
<text x="35.00" y="805.60" font-size="10.5" text-anchor="start" >Cells</text>
<text x="99.00" y="805.40" font-size="10.2" text-anchor="middle" >WT</text>
<text x="138.00" y="805.40" font-size="10.4" text-anchor="middle" >Talin null</text>
<text x="261.80" y="618.40" font-size="10" font-weight="bold" text-anchor="middle" >ICAM-1</text>
<rect x="226.3" y="626.5" width="84.6" height="163.80" fill="none" stroke="#000" stroke-width="1.3"/>
<line x1="221.30" y1="790.30" x2="226.30" y2="790.30" stroke="#000" stroke-width="1.3"/>
<text x="217.30" y="794.60" font-size="10" font-weight="bold" text-anchor="end" >0</text>
<line x1="221.30" y1="763.00" x2="226.30" y2="763.00" stroke="#000" stroke-width="1.3"/>
<text x="217.30" y="767.30" font-size="10" font-weight="bold" text-anchor="end" >1</text>
<line x1="221.30" y1="735.70" x2="226.30" y2="735.70" stroke="#000" stroke-width="1.3"/>
<text x="217.30" y="740.00" font-size="10" font-weight="bold" text-anchor="end" >2</text>
<line x1="221.30" y1="708.40" x2="226.30" y2="708.40" stroke="#000" stroke-width="1.3"/>
<text x="217.30" y="712.70" font-size="10" font-weight="bold" text-anchor="end" >3</text>
<line x1="221.30" y1="681.10" x2="226.30" y2="681.10" stroke="#000" stroke-width="1.3"/>
<text x="217.30" y="685.40" font-size="10" font-weight="bold" text-anchor="end" >4</text>
<line x1="221.30" y1="653.80" x2="226.30" y2="653.80" stroke="#000" stroke-width="1.3"/>
<text x="217.30" y="658.10" font-size="10" font-weight="bold" text-anchor="end" >5</text>
<line x1="221.30" y1="626.50" x2="226.30" y2="626.50" stroke="#000" stroke-width="1.3"/>
<text x="217.30" y="630.80" font-size="10" font-weight="bold" text-anchor="end" >6</text>
<text transform="translate(201.2,695.5) rotate(-90)" font-size="10.4" font-weight="bold" text-anchor="middle">Arrest frequency (%)</text>
<line x1="249.80" y1="629.40" x2="249.80" y2="652.60" stroke="#000" stroke-width="1.8"/>
<path d="M247.20,628.40H252.40L251.80,630.40H247.80Z" fill="#000"/>
<rect x="240.20" y="652.60" width="20.10" height="137.70" fill="#3a3a3a" stroke="#000" stroke-width="2.1"/>
<line x1="250.50" y1="790.30" x2="250.50" y2="796.00" stroke="#000" stroke-width="1.8"/>
<line x1="287.00" y1="755.00" x2="287.00" y2="761.30" stroke="#000" stroke-width="1.8"/>
<path d="M284.40,754.00H289.60L289.00,756.00H285.00Z" fill="#000"/>
<rect x="274.60" y="761.30" width="24.00" height="29.00" fill="#3a3a3a" stroke="#000" stroke-width="2.1"/>
<line x1="286.40" y1="790.30" x2="286.40" y2="796.00" stroke="#000" stroke-width="1.8"/>
<path d="M281.20,747.90L281.20,745.00M281.20,747.90L283.96,747.00M281.20,747.90L282.90,750.25M281.20,747.90L279.50,750.25M281.20,747.90L278.44,747.00" stroke="#000" stroke-width="1.15" fill="none" stroke-linecap="round"/>
<path d="M288.70,747.90L288.70,745.00M288.70,747.90L291.46,747.00M288.70,747.90L290.40,750.25M288.70,747.90L287.00,750.25M288.70,747.90L285.94,747.00" stroke="#000" stroke-width="1.15" fill="none" stroke-linecap="round"/>
<text x="189.20" y="805.80" font-size="10.5" text-anchor="start" >Cells</text>
<text x="249.80" y="805.60" font-size="10.2" text-anchor="middle" >WT</text>
<text x="290.00" y="805.60" font-size="10.4" text-anchor="middle" >Talin null</text>
</svg>
</body></html>
